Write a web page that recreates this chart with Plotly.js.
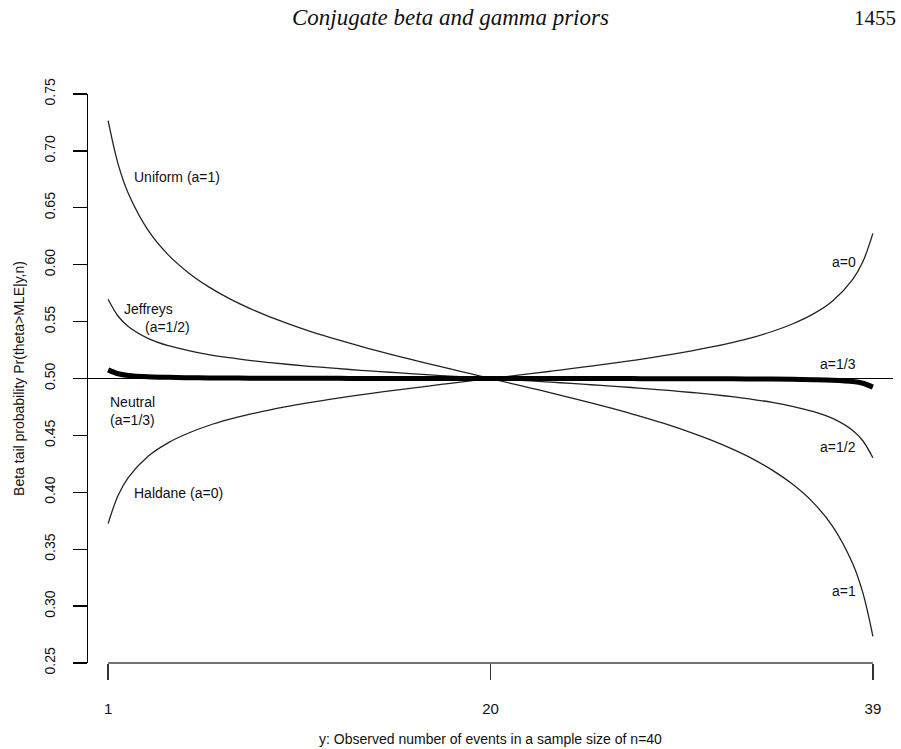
<!DOCTYPE html>
<html>
<head>
<meta charset="utf-8">
<script src="https://cdn.plot.ly/plotly-3.0.1.min.js"></script>
<style>
  html, body { margin: 0; padding: 0; background: #ffffff; }
  #chart { width: 901px; height: 749px; }
</style>
</head>
<body>
<div id="chart"></div>
<script>
// Observed number of events y (sample size n = 40); half-steps at both ends
// keep the steep end segments smooth.
const yObserved = [1, 1.5, 2, 3, 4, 5, 6, 7, 8, 9, 10, 11, 12, 13, 14, 15, 16, 17, 18, 19, 20,
                   21, 22, 23, 24, 25, 26, 27, 28, 29, 30, 31, 32, 33, 34, 35, 36, 37, 38, 38.5, 39];

// Beta tail probability Pr(theta > MLE | y, n) under Beta(a, a) priors
const uniformA1 = [0.7265, 0.6882, 0.6628, 0.6299, 0.6084, 0.5928, 0.5805, 0.5704, 0.5619, 0.5544, 0.5478,
                   0.5417, 0.5362, 0.5310, 0.5261, 0.5214, 0.5170, 0.5126, 0.5084, 0.5042, 0.5000,
                   0.4958, 0.4916, 0.4874, 0.4830, 0.4786, 0.4739, 0.4690, 0.4638, 0.4583, 0.4522,
                   0.4456, 0.4381, 0.4296, 0.4195, 0.4072, 0.3916, 0.3701, 0.3372, 0.3118, 0.2735];

const jeffreysA12 = [0.5697, 0.5547, 0.5457, 0.5351, 0.5288, 0.5244, 0.5210, 0.5183, 0.5160, 0.5140, 0.5123,
                     0.5107, 0.5093, 0.5079, 0.5067, 0.5055, 0.5043, 0.5032, 0.5021, 0.5011, 0.5000,
                     0.4989, 0.4979, 0.4968, 0.4957, 0.4945, 0.4933, 0.4921, 0.4907, 0.4893, 0.4877,
                     0.4860, 0.4840, 0.4817, 0.4790, 0.4756, 0.4712, 0.4649, 0.4543, 0.4453, 0.4303];

const neutralA13 = [0.5076, 0.5042, 0.5027, 0.5015, 0.5010, 0.5007, 0.5005, 0.5004, 0.5003, 0.5003, 0.5002,
                    0.5002, 0.5002, 0.5001, 0.5001, 0.5001, 0.5001, 0.5001, 0.5000, 0.5000, 0.5000,
                    0.5000, 0.5000, 0.4999, 0.4999, 0.4999, 0.4999, 0.4999, 0.4998, 0.4998, 0.4998,
                    0.4997, 0.4997, 0.4996, 0.4995, 0.4993, 0.4990, 0.4985, 0.4973, 0.4958, 0.4924];

const haldaneA0 = [0.3725, 0.3975, 0.4129, 0.4319, 0.4437, 0.4521, 0.4587, 0.4640, 0.4684, 0.4723, 0.4757,
                   0.4788, 0.4816, 0.4843, 0.4868, 0.4891, 0.4914, 0.4936, 0.4958, 0.4979, 0.5000,
                   0.5021, 0.5042, 0.5064, 0.5086, 0.5109, 0.5132, 0.5157, 0.5184, 0.5212, 0.5243,
                   0.5277, 0.5316, 0.5360, 0.5413, 0.5479, 0.5563, 0.5681, 0.5871, 0.6025, 0.6275];

const xTickValues = [1, 20, 39];
const xTickLabels = ['1', '20', '39'];
const yTickValues = [0.25, 0.30, 0.35, 0.40, 0.45, 0.50, 0.55, 0.60, 0.65, 0.70, 0.75];
const yTickLabels = ['0.25', '0.30', '0.35', '0.40', '0.45', '0.50', '0.55', '0.60', '0.65', '0.70', '0.75'];

// In-plot curve labels: [text, x, y, anchor]
const curveLabels = [
  ['Uniform (a=1)', 2.21, 0.6773, 'left'],
  ['Jeffreys',      1.71, 0.5611, 'left'],
  ['(a=1/2)',       2.71, 0.5453, 'left'],
  ['Neutral',       0.97, 0.4793, 'left'],
  ['(a=1/3)',       0.97, 0.4635, 'left'],
  ['Haldane (a=0)', 2.21, 0.3993, 'left'],
  ['a=0',          38.27, 0.6025, 'right'],
  ['a=1/3',        38.27, 0.5131, 'right'],
  ['a=1/2',        38.27, 0.4401, 'right'],
  ['a=1',          38.27, 0.3134, 'right']
];

const sans = 'Liberation Sans, Arial, Helvetica, sans-serif';
const thin = { color: '#222222', width: 1.3, shape: 'spline', smoothing: 1 };

const traces = [
  { x: yObserved, y: uniformA1,   mode: 'lines', line: thin, name: 'Uniform (a=1)' },
  { x: yObserved, y: jeffreysA12, mode: 'lines', line: thin, name: 'Jeffreys (a=1/2)' },
  { x: yObserved, y: haldaneA0,   mode: 'lines', line: thin, name: 'Haldane (a=0)' },
  { x: yObserved, y: neutralA13,  mode: 'lines',
    line: { color: '#000000', width: 5, shape: 'spline', smoothing: 1 }, name: 'Neutral (a=1/3)' }
];

const annotations = curveLabels.map(([text, x, y, anchor]) => ({
  text: text, x: x, y: y, xref: 'x', yref: 'y',
  xanchor: anchor, yanchor: 'middle', showarrow: false,
  font: { family: sans, size: 14, color: '#111111' }
}));

// Running page header
annotations.push({
  text: '<i>Conjugate beta and gamma priors</i>', xref: 'paper', yref: 'paper',
  x: 0.4497, y: 1.1336, xanchor: 'center', yanchor: 'middle', showarrow: false,
  font: { family: 'Liberation Serif, Times New Roman, serif', size: 23, color: '#111111' }
});
annotations.push({
  text: '1455', xref: 'paper', yref: 'paper',
  x: 1.0062, y: 1.1336, xanchor: 'right', yanchor: 'middle', showarrow: false,
  font: { family: 'Liberation Serif, Times New Roman, serif', size: 21, color: '#111111' }
});

const layout = {
  width: 901,
  height: 749,
  margin: { l: 88, r: 8, t: 94, b: 86, pad: 0 },
  paper_bgcolor: '#ffffff',
  plot_bgcolor: '#ffffff',
  showlegend: false,
  font: { family: sans, color: '#111111' },
  xaxis: {
    range: [0, 40],
    tickmode: 'array', tickvals: xTickValues, ticktext: xTickLabels,
    ticks: 'outside', ticklen: 16, tickwidth: 1.3, tickcolor: '#333333',
    ticklabelstandoff: 16,
    tickfont: { family: sans, size: 15, color: '#111111' },
    showline: false, showgrid: false, zeroline: false,
    title: { text: 'y: Observed number of events in a sample size of n=40',
             font: { family: sans, size: 14, color: '#111111' }, standoff: 18 }
  },
  yaxis: {
    range: [0.25, 0.75],
    tickmode: 'array', tickvals: yTickValues, ticktext: yTickLabels,
    tickangle: -90,
    ticks: 'outside', ticklen: 14, tickwidth: 1.3, tickcolor: '#000000',
    ticklabelstandoff: 12,
    tickfont: { family: sans, size: 14, color: '#111111' },
    showline: true, linecolor: '#000000', linewidth: 1.3,
    showgrid: false, zeroline: false,
    title: { text: 'Beta tail probability Pr(theta>MLE|y,n)',
             font: { family: sans, size: 14, color: '#111111' }, standoff: 14 }
  },
  shapes: [
    // horizontal reference line at 0.5
    { type: 'line', xref: 'paper', yref: 'y', x0: 0, x1: 1, y0: 0.5, y1: 0.5,
      line: { color: '#000000', width: 1.2 } },
    // x axis line spanning the first to last tick
    { type: 'line', xref: 'x', yref: 'paper', x0: 1, x1: 39, y0: 0, y1: 0,
      line: { color: '#444444', width: 1.3 } }
  ],
  annotations: annotations
};

Plotly.newPlot('chart', traces, layout, { staticPlot: true, displayModeBar: false });
</script>
</body>
</html>
